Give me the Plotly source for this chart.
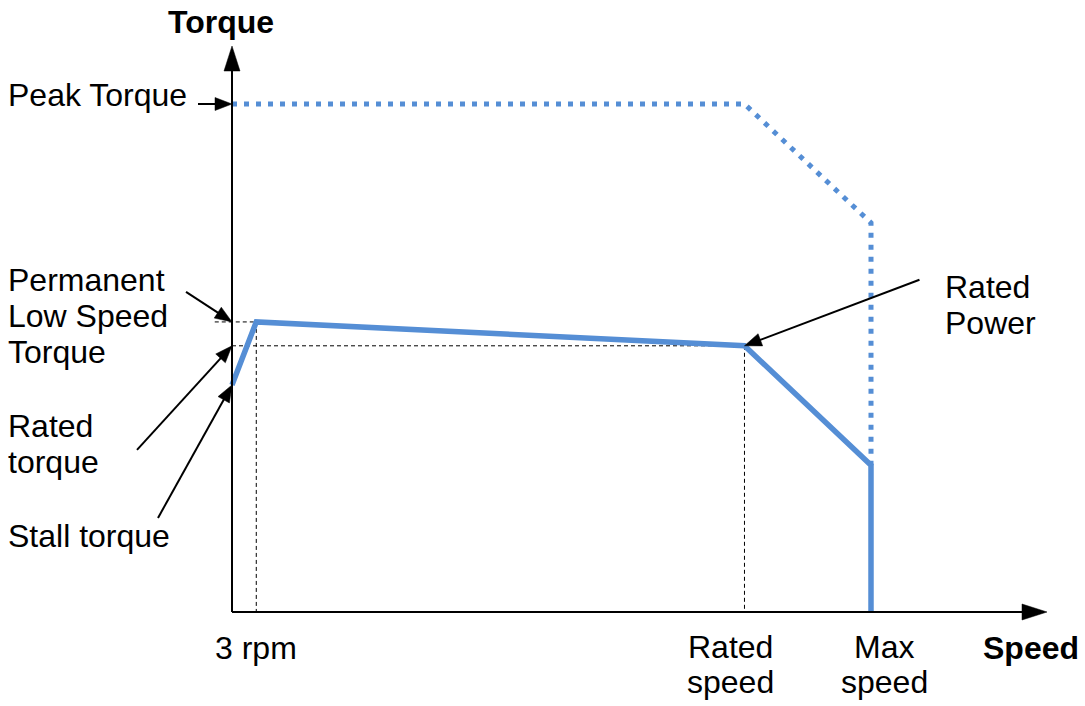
import math

import plotly.graph_objects as go

# speed in % of max speed, torque in % of peak torque
cont_speed = [0, 3.8, 80.2, 100, 100]
cont_torque = [44.7, 57.1, 52.4, 28.9, 0]
peak_speed = [0, 80.2, 100, 100]
peak_torque = [100, 100, 76.6, 28.9]

low_speed = cont_speed[1]       # "3 rpm"
rated_speed = cont_speed[2]
stall_torque = cont_torque[0]
low_speed_torque = cont_torque[1]
rated_torque = cont_torque[2]

W, H = 1085, 706
X0, Y0 = 232, 612          # pixel position of the origin
SX, SY = 6.39, 5.08        # pixels per unit
BLUE = "#558ED5"
FONT = "Liberation Sans, Arial, sans-serif"

fig = go.Figure()

# thin dashed guide lines
gx = [-2.7, low_speed, None, low_speed, low_speed, None, 0, rated_speed, None, rated_speed, rated_speed]
gy = [low_speed_torque, low_speed_torque, None, low_speed_torque, 0, None,
      rated_torque, rated_torque, None, rated_torque, 0]
fig.add_trace(go.Scatter(x=gx, y=gy, mode="lines", line=dict(color="black", width=1, dash="4px,3px"),
                         hoverinfo="skip", showlegend=False))

fig.add_trace(go.Scatter(x=peak_speed, y=peak_torque, mode="lines",
                         line=dict(color=BLUE, width=5, dash="5px,7px"), showlegend=False))
fig.add_trace(go.Scatter(x=cont_speed, y=cont_torque, mode="lines",
                         line=dict(color=BLUE, width=5.5), showlegend=False))


def add_arrow(x, y, dx, dy, head_len=17, head_w=13, width=2):
    # tip at data (x, y); tail offset dx, dy in pixels (dy up)
    L = math.hypot(dx, dy)
    ux, uy = -dx / L, -dy / L
    bx, by = -ux * head_len, -uy * head_len
    nx, ny = -uy, ux
    common = dict(xref="x", yref="y", xsizemode="pixel", ysizemode="pixel", xanchor=x, yanchor=y)
    fig.add_shape(type="line", x0=dx, y0=dy, x1=bx * 0.7, y1=by * 0.7,
                  line=dict(color="black", width=width), **common)
    p1 = (bx + nx * head_w / 2, by + ny * head_w / 2)
    p2 = (bx - nx * head_w / 2, by - ny * head_w / 2)
    path = f"M0,0L{p1[0]:.2f},{p1[1]:.2f}L{p2[0]:.2f},{p2[1]:.2f}Z"
    fig.add_shape(type="path", path=path, fillcolor="black", line=dict(color="black", width=0.5), **common)


# axes
add_arrow(0, (Y0 - 46) / SY, 0, -(Y0 - 46), head_len=25, head_w=16)
add_arrow((1047 - X0) / SX, 0, -(1047 - X0), 0, head_len=25, head_w=16)

# label arrows
add_arrow(0, 100, -34, 0)
add_arrow(0, low_speed_torque, -46, 30)
add_arrow(0, rated_torque, -95, -104)
add_arrow(0, stall_torque, -74, -133)
add_arrow(rated_speed, rated_torque, 175, 66)


def label(text, px, py, anchor="left", bold=False):
    if bold:
        text = f"<b>{text}</b>"
    fig.add_annotation(text=text, x=px / W, y=1 - py / H, xref="paper", yref="paper",
                       xanchor=anchor, yanchor="middle", showarrow=False,
                       font=dict(family=FONT, size=32, color="black"))


label("Torque", 221, 22, "center", bold=True)
label("Speed", 1031, 648, "center", bold=True)
label("Peak Torque", 6, 95)
label("Permanent", 6, 280)
label("Low Speed", 6, 316)
label("Torque", 6, 352)
label("Rated", 6, 426)
label("torque", 6, 462)
label("Stall torque", 6, 536)
label("Rated", 943, 287)
label("Power", 943, 323)
label("3 rpm", 256, 648, "center")
label("Rated", 730, 647, "center")
label("speed", 730, 682, "center")
label("Max", 884, 647, "center")
label("speed", 884, 682, "center")

fig.update_layout(
    width=W, height=H,
    margin=dict(l=0, r=0, t=0, b=0),
    paper_bgcolor="white", plot_bgcolor="white",
    xaxis=dict(range=[-X0 / SX, (W - X0) / SX], visible=False, fixedrange=True),
    yaxis=dict(range=[-(H - Y0) / SY, Y0 / SY], visible=False, fixedrange=True),
    showlegend=False,
)

fig.write_html("out.html", config={"displayModeBar": False},
               post_script="document.body.style.margin='0';")
